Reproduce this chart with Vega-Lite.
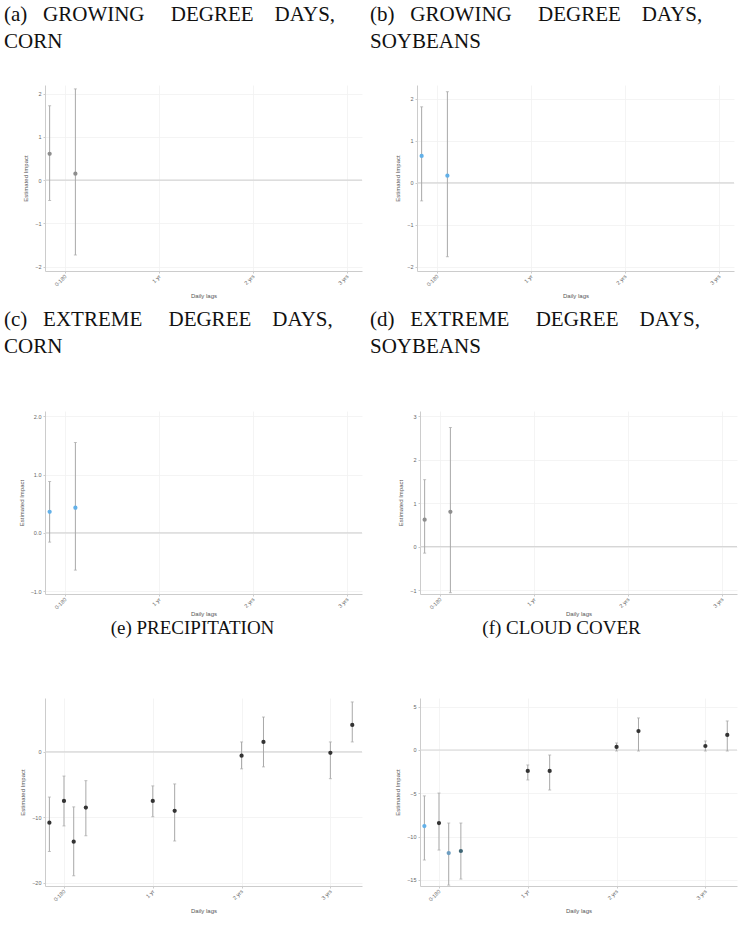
{
  "$schema": "https://vega.github.io/schema/vega-lite/v6.json",
  "padding": {"left": 4, "top": 4, "right": 0, "bottom": 2},
  "background": "white",
  "datasets": {
    "est": [
      {"panel": "a", "lag": -60, "est": 0.61, "lo": -0.47, "hi": 1.72, "group": "A"},
      {"panel": "a", "lag": 40, "est": 0.15, "lo": -1.73, "hi": 2.11, "group": "A"},
      {"panel": "b", "lag": -60, "est": 0.64, "lo": -0.43, "hi": 1.81, "group": "B"},
      {"panel": "b", "lag": 40, "est": 0.17, "lo": -1.76, "hi": 2.17, "group": "B"},
      {"panel": "c", "lag": -60, "est": 0.36, "lo": -0.16, "hi": 0.88, "group": "B"},
      {"panel": "c", "lag": 40, "est": 0.43, "lo": -0.64, "hi": 1.55, "group": "B"},
      {"panel": "d", "lag": -60, "est": 0.62, "lo": -0.15, "hi": 1.54, "group": "A"},
      {"panel": "d", "lag": 40, "est": 0.8, "lo": -1.06, "hi": 2.74, "group": "A"},
      {"panel": "e", "lag": -60, "est": -10.8, "lo": -15.2, "hi": -6.9, "group": "C"},
      {"panel": "e", "lag": 0, "est": -7.5, "lo": -11.3, "hi": -3.7, "group": "C"},
      {"panel": "e", "lag": 40, "est": -13.7, "lo": -18.9, "hi": -8.4, "group": "C"},
      {"panel": "e", "lag": 90, "est": -8.5, "lo": -12.8, "hi": -4.4, "group": "C"},
      {"panel": "e", "lag": 365, "est": -7.5, "lo": -9.9, "hi": -5.2, "group": "C"},
      {"panel": "e", "lag": 455, "est": -9.0, "lo": -13.6, "hi": -4.9, "group": "C"},
      {"panel": "e", "lag": 730, "est": -0.6, "lo": -2.6, "hi": 1.5, "group": "C"},
      {"panel": "e", "lag": 820, "est": 1.5, "lo": -2.3, "hi": 5.3, "group": "C"},
      {"panel": "e", "lag": 1095, "est": -0.15, "lo": -4.1, "hi": 1.5, "group": "C"},
      {"panel": "e", "lag": 1185, "est": 4.1, "lo": 1.5, "hi": 7.6, "group": "C"},
      {"panel": "f", "lag": -60, "est": -8.78, "lo": -12.7, "hi": -5.3, "group": "B"},
      {"panel": "f", "lag": 0, "est": -8.43, "lo": -11.55, "hi": -4.97, "group": "C"},
      {"panel": "f", "lag": 40, "est": -11.9, "lo": -15.6, "hi": -8.43, "group": "D"},
      {"panel": "f", "lag": 90, "est": -11.66, "lo": -14.9, "hi": -8.43, "group": "E"},
      {"panel": "f", "lag": 365, "est": -2.42, "lo": -3.46, "hi": -1.73, "group": "C"},
      {"panel": "f", "lag": 455, "est": -2.42, "lo": -4.62, "hi": -0.58, "group": "C"},
      {"panel": "f", "lag": 730, "est": 0.35, "lo": -0.12, "hi": 0.81, "group": "C"},
      {"panel": "f", "lag": 820, "est": 2.19, "lo": -0.12, "hi": 3.7, "group": "C"},
      {"panel": "f", "lag": 1095, "est": 0.46, "lo": -0.12, "hi": 1.04, "group": "C"},
      {"panel": "f", "lag": 1185, "est": 1.73, "lo": -0.12, "hi": 3.35, "group": "C"}
    ]
  },
  "bounds": "flush",
  "spacing": 613,
  "vconcat": [
    {
      "bounds": "flush",
      "spacing": 326,
      "vconcat": [
        {
          "bounds": "flush",
          "spacing": 55,
          "hconcat": [
            {
              "title": {"text": ["(a)\u00a0\u00a0\u00a0GROWING\u00a0\u00a0\u00a0\u00a0\u00a0DEGREE\u00a0\u00a0\u00a0\u00a0DAYS,", "CORN"], "dx": -41, "offset": 33},
              "width": 317, "height": 186,
              "data": {"name": "est"},
              "layer": [
                {"data": {"values": [{}]}, "mark": {"type": "rule", "color": "#d6d6d6", "strokeWidth": 1.2}, "encoding": {"y": {"datum": 0}}},
                {"transform": [{"filter": "datum.panel === 'a'"}],
                 "mark": {"type": "errorbar", "ticks": {"size": 3}, "color": "#a8a8a8", "thickness": 1},
                 "encoding": {
                   "x": {"field": "lag", "type": "quantitative", "scale": {"domain": [-78, 1153], "nice": false, "zero": false},
                         "axis": {"values": [0, 365, 730, 1095], "labelExpr": "datum.value == 0 ? '0-180' : datum.value == 365 ? '1 yr' : datum.value == 730 ? '2 yrs' : '3 yrs'", "title": "Daily lags"}},
                   "y": {"field": "lo", "type": "quantitative", "scale": {"domain": [-2.1, 2.2], "nice": false, "zero": false},
                         "axis": {"values": [-2, -1, 0, 1, 2], "title": "Estimated Impact"}},
                   "y2": {"field": "hi"}}},
                {"transform": [{"filter": "datum.panel === 'a'"}],
                 "mark": {"type": "point", "filled": true, "size": 18, "opacity": 1},
                 "encoding": {
                   "x": {"field": "lag", "type": "quantitative"},
                   "y": {"field": "est", "type": "quantitative", "title": "Estimated Impact"},
                   "color": {"field": "group", "type": "nominal", "scale": {"domain": ["A", "B", "C", "D", "E"], "range": ["#8e8e8e", "#62b0e8", "#333333", "#6d9dc0", "#3e6574"]}, "legend": null}}}
              ]
            },
            {
              "title": {"text": ["(b)\u00a0\u00a0\u00a0GROWING\u00a0\u00a0\u00a0\u00a0\u00a0DEGREE\u00a0\u00a0\u00a0\u00a0DAYS,", "SOYBEANS"], "dx": -47, "offset": 33},
              "width": 317, "height": 186,
              "data": {"name": "est"},
              "layer": [
                {"data": {"values": [{}]}, "mark": {"type": "rule", "color": "#d6d6d6", "strokeWidth": 1.2}, "encoding": {"y": {"datum": 0}}},
                {"transform": [{"filter": "datum.panel === 'b'"}],
                 "mark": {"type": "errorbar", "ticks": {"size": 3}, "color": "#a8a8a8", "thickness": 1},
                 "encoding": {
                   "x": {"field": "lag", "type": "quantitative", "scale": {"domain": [-78, 1153], "nice": false, "zero": false},
                         "axis": {"values": [0, 365, 730, 1095], "labelExpr": "datum.value == 0 ? '0-180' : datum.value == 365 ? '1 yr' : datum.value == 730 ? '2 yrs' : '3 yrs'", "title": "Daily lags"}},
                   "y": {"field": "lo", "type": "quantitative", "scale": {"domain": [-2.1, 2.33], "nice": false, "zero": false},
                         "axis": {"values": [-2, -1, 0, 1, 2], "title": "Estimated Impact"}},
                   "y2": {"field": "hi"}}},
                {"transform": [{"filter": "datum.panel === 'b'"}],
                 "mark": {"type": "point", "filled": true, "size": 18, "opacity": 1},
                 "encoding": {
                   "x": {"field": "lag", "type": "quantitative"},
                   "y": {"field": "est", "type": "quantitative", "title": "Estimated Impact"},
                   "color": {"field": "group", "type": "nominal", "scale": {"domain": ["A", "B", "C", "D", "E"], "range": ["#8e8e8e", "#62b0e8", "#333333", "#6d9dc0", "#3e6574"]}, "legend": null}}}
              ]
            }
          ]
        },
        {
          "bounds": "flush",
          "spacing": 58,
          "hconcat": [
            {
              "title": {"text": ["(c)\u00a0\u00a0\u00a0EXTREME\u00a0\u00a0\u00a0\u00a0\u00a0DEGREE\u00a0\u00a0\u00a0\u00a0DAYS,", "CORN"], "dx": -41, "offset": 54},
              "width": 317, "height": 183,
              "data": {"name": "est"},
              "layer": [
                {"data": {"values": [{}]}, "mark": {"type": "rule", "color": "#d6d6d6", "strokeWidth": 1.2}, "encoding": {"y": {"datum": 0}}},
                {"transform": [{"filter": "datum.panel === 'c'"}],
                 "mark": {"type": "errorbar", "ticks": {"size": 3}, "color": "#a8a8a8", "thickness": 1},
                 "encoding": {
                   "x": {"field": "lag", "type": "quantitative", "scale": {"domain": [-78, 1153], "nice": false, "zero": false},
                         "axis": {"values": [0, 365, 730, 1095], "labelExpr": "datum.value == 0 ? '0-180' : datum.value == 365 ? '1 yr' : datum.value == 730 ? '2 yrs' : '3 yrs'", "title": "Daily lags", "titlePadding": 0}},
                   "y": {"field": "lo", "type": "quantitative", "scale": {"domain": [-1.05, 2.09], "nice": false, "zero": false},
                         "axis": {"values": [-1, 0, 1, 2], "title": "Estimated Impact"}},
                   "y2": {"field": "hi"}}},
                {"transform": [{"filter": "datum.panel === 'c'"}],
                 "mark": {"type": "point", "filled": true, "size": 18, "opacity": 1},
                 "encoding": {
                   "x": {"field": "lag", "type": "quantitative"},
                   "y": {"field": "est", "type": "quantitative", "title": "Estimated Impact"},
                   "color": {"field": "group", "type": "nominal", "scale": {"domain": ["A", "B", "C", "D", "E"], "range": ["#8e8e8e", "#62b0e8", "#333333", "#6d9dc0", "#3e6574"]}, "legend": null}}}
              ]
            },
            {
              "title": {"text": ["(d)\u00a0\u00a0\u00a0EXTREME\u00a0\u00a0\u00a0\u00a0\u00a0DEGREE\u00a0\u00a0\u00a0\u00a0DAYS,", "SOYBEANS"], "dx": -50, "offset": 54},
              "width": 317, "height": 183,
              "data": {"name": "est"},
              "layer": [
                {"data": {"values": [{}]}, "mark": {"type": "rule", "color": "#d6d6d6", "strokeWidth": 1.2}, "encoding": {"y": {"datum": 0}}},
                {"transform": [{"filter": "datum.panel === 'd'"}],
                 "mark": {"type": "errorbar", "ticks": {"size": 3}, "color": "#a8a8a8", "thickness": 1},
                 "encoding": {
                   "x": {"field": "lag", "type": "quantitative", "scale": {"domain": [-78, 1153], "nice": false, "zero": false},
                         "axis": {"values": [0, 365, 730, 1095], "labelExpr": "datum.value == 0 ? '0-180' : datum.value == 365 ? '1 yr' : datum.value == 730 ? '2 yrs' : '3 yrs'", "title": "Daily lags", "titlePadding": 0}},
                   "y": {"field": "lo", "type": "quantitative", "scale": {"domain": [-1.09, 3.12], "nice": false, "zero": false},
                         "axis": {"values": [-1, 0, 1, 2, 3], "title": "Estimated Impact"}},
                   "y2": {"field": "hi"}}},
                {"transform": [{"filter": "datum.panel === 'd'"}],
                 "mark": {"type": "point", "filled": true, "size": 18, "opacity": 1},
                 "encoding": {
                   "x": {"field": "lag", "type": "quantitative"},
                   "y": {"field": "est", "type": "quantitative", "title": "Estimated Impact"},
                   "color": {"field": "group", "type": "nominal", "scale": {"domain": ["A", "B", "C", "D", "E"], "range": ["#8e8e8e", "#62b0e8", "#333333", "#6d9dc0", "#3e6574"]}, "legend": null}}}
              ]
            }
          ]
        }
      ]
    },
    {
      "bounds": "flush",
      "spacing": 58,
      "hconcat": [
        {
          "title": {"text": "(e) PRECIPITATION", "anchor": "middle", "dx": -11, "offset": 60, "fontSize": 19},
          "width": 317, "height": 188,
          "data": {"name": "est"},
          "layer": [
            {"data": {"values": [{}]}, "mark": {"type": "rule", "color": "#d6d6d6", "strokeWidth": 1.2}, "encoding": {"y": {"datum": 0}}},
            {"transform": [{"filter": "datum.panel === 'e'"}],
             "mark": {"type": "errorbar", "ticks": {"size": 3}, "color": "#a8a8a8", "thickness": 1},
             "encoding": {
               "x": {"field": "lag", "type": "quantitative", "scale": {"domain": [-78, 1225], "nice": false, "zero": false},
                     "axis": {"values": [0, 365, 730, 1095], "labelExpr": "datum.value == 0 ? '0-180' : datum.value == 365 ? '1 yr' : datum.value == 730 ? '2 yrs' : '3 yrs'", "title": "Daily lags"}},
               "y": {"field": "lo", "type": "quantitative", "scale": {"domain": [-20.46, 8.2], "nice": false, "zero": false},
                     "axis": {"values": [-20, -15, -10, -5, 0, 5], "title": "Estimated Impact"}},
               "y2": {"field": "hi"}}},
            {"transform": [{"filter": "datum.panel === 'e'"}],
             "mark": {"type": "point", "filled": true, "size": 18, "opacity": 1},
             "encoding": {
               "x": {"field": "lag", "type": "quantitative"},
               "y": {"field": "est", "type": "quantitative", "title": "Estimated Impact"},
               "color": {"field": "group", "type": "nominal", "scale": {"domain": ["A", "B", "C", "D", "E"], "range": ["#8e8e8e", "#62b0e8", "#333333", "#6d9dc0", "#3e6574"]}, "legend": null}}}
          ]
        },
        {
          "title": {"text": "(f) CLOUD COVER", "anchor": "middle", "dx": -17, "offset": 60, "fontSize": 19},
          "width": 317, "height": 188,
          "data": {"name": "est"},
          "layer": [
            {"data": {"values": [{}]}, "mark": {"type": "rule", "color": "#d6d6d6", "strokeWidth": 1.2}, "encoding": {"y": {"datum": 0}}},
            {"transform": [{"filter": "datum.panel === 'f'"}],
             "mark": {"type": "errorbar", "ticks": {"size": 3}, "color": "#a8a8a8", "thickness": 1},
             "encoding": {
               "x": {"field": "lag", "type": "quantitative", "scale": {"domain": [-78, 1225], "nice": false, "zero": false},
                     "axis": {"values": [0, 365, 730, 1095], "labelExpr": "datum.value == 0 ? '0-180' : datum.value == 365 ? '1 yr' : datum.value == 730 ? '2 yrs' : '3 yrs'", "title": "Daily lags"}},
               "y": {"field": "lo", "type": "quantitative", "scale": {"domain": [-15.7, 6.0], "nice": false, "zero": false},
                     "axis": {"values": [-15, -10, -5, 0, 5], "title": "Estimated Impact"}},
               "y2": {"field": "hi"}}},
            {"transform": [{"filter": "datum.panel === 'f'"}],
             "mark": {"type": "point", "filled": true, "size": 18, "opacity": 1},
             "encoding": {
               "x": {"field": "lag", "type": "quantitative"},
               "y": {"field": "est", "type": "quantitative", "title": "Estimated Impact"},
               "color": {"field": "group", "type": "nominal", "scale": {"domain": ["A", "B", "C", "D", "E"], "range": ["#8e8e8e", "#62b0e8", "#333333", "#6d9dc0", "#3e6574"]}, "legend": null}}}
          ]
        }
      ]
    }
  ],
  "config": {
    "view": {"stroke": null},
    "axis": {
      "labelFont": "Liberation Sans", "labelFontSize": 5.5, "labelColor": "#666666",
      "titleFont": "Liberation Sans", "titleFontSize": 6, "titleFontWeight": "normal", "titleColor": "#555555",
      "domainColor": "#cccccc", "tickColor": "#cccccc", "tickSize": 2, "labelPadding": 2,
      "grid": true, "gridColor": "#f1f1f1", "gridWidth": 0.8
    },
    "axisX": {"labelAngle": -45, "labelAlign": "right", "labelBaseline": "middle", "titlePadding": 5},
    "axisY": {"titlePadding": 6},
    "title": {"font": "Liberation Serif", "fontSize": 21, "fontWeight": "normal", "color": "#111111", "lineHeight": 27, "anchor": "start", "frame": "group"}
  }
}
